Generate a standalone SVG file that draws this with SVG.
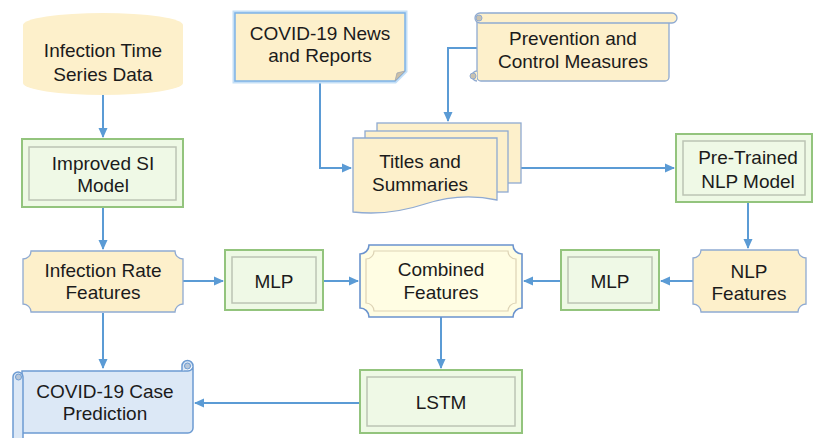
<svg xmlns="http://www.w3.org/2000/svg" width="813" height="438" viewBox="0 0 813 438">
<defs>
<marker id="ah" markerWidth="10" markerHeight="10" refX="9" refY="5" orient="auto" markerUnits="userSpaceOnUse">
<path d="M0,0.5 L10,5 L0,9.5 Z" fill="#5B9BD5"/>
</marker>
<style>
text{font-family:"Liberation Sans",Arial,sans-serif;font-size:19px;fill:#1b1b1b;text-anchor:middle}
.c{fill:none;stroke:#5B9BD5;stroke-width:2;marker-end:url(#ah)}
.gout{fill:#EEF9E5;stroke:#93C47D;stroke-width:2}
.gin{fill:#EFF9E6;stroke:#BCC4B4;stroke-width:1.5}
.yel{fill:#FDF0CB;stroke:#8FAAD2;stroke-width:1.3}
.blu{fill:#DCE8F6;stroke:#6C9BD2;stroke-width:1.5}
</style>
</defs>
<rect width="813" height="438" fill="#fff"/>

<g id="connectors">
<path class="c" d="M103,95 V137"/>
<path class="c" d="M103,207 V249"/>
<path class="c" d="M183,281 H223"/>
<path class="c" d="M323,281 H358"/>
<path class="c" d="M561,281 H524"/>
<path class="c" d="M693,281 H661"/>
<path class="c" d="M748,202 V248"/>
<path class="c" d="M441,317 V368"/>
<path class="c" d="M360,403 H195"/>
<path class="c" d="M103,313 V368"/>
<path class="c" d="M320,81 V168 H351"/>
<path class="c" d="M477,48 H448 V121"/>
<path class="c" d="M521,168 H674"/>
</g>

<g id="n-infection-time">
<path d="M23,25 A80,12 0 0 1 183,25 L183,83 A80,12 0 0 1 23,83 Z" fill="#FDF0CB"/>
<text x="103" y="57">Infection Time</text>
<text x="103" y="81">Series Data</text>
</g>

<g id="n-improved-si">
<rect class="gout" x="22" y="139" width="161" height="68"/>
<rect class="gin" x="29" y="147" width="147" height="53"/>
<text x="103" y="170">Improved SI</text>
<text x="103" y="192">Model</text>
</g>

<g id="n-infection-rate">
<path class="yel" d="M31,251 H175 A8,8 0 0 0 183,259 V304 A8,8 0 0 0 175,312 H31 A8,8 0 0 0 23,304 V259 A8,8 0 0 0 31,251 Z"/>
<text x="103" y="277">Infection Rate</text>
<text x="103" y="299">Features</text>
</g>

<g id="n-mlp1">
<rect class="gout" x="225" y="250" width="98" height="60"/>
<rect class="gin" x="232" y="257" width="84" height="46"/>
<text x="274" y="288">MLP</text>
</g>

<g id="n-combined">
<path d="M369,245 H513 A9,9 0 0 0 522,254 V308 A9,9 0 0 0 513,317 H369 A9,9 0 0 0 360,308 V254 A9,9 0 0 0 369,245 Z" fill="#FFFDE3" stroke="#6A93CE" stroke-width="1.6"/>
<path d="M374,251 H508 A8,8 0 0 0 516,259 V303 A8,8 0 0 0 508,311 H374 A8,8 0 0 0 366,303 V259 A8,8 0 0 0 374,251 Z" fill="none" stroke="#DDD3B5" stroke-width="1.2"/>
<text x="441" y="276">Combined</text>
<text x="441" y="299">Features</text>
</g>

<g id="n-mlp2">
<rect class="gout" x="561" y="250" width="98" height="60"/>
<rect class="gin" x="568" y="257" width="84" height="46"/>
<text x="610" y="288">MLP</text>
</g>

<g id="n-nlp-features">
<path class="yel" d="M701,250 H798 A8,8 0 0 0 806,258 V304 A8,8 0 0 0 798,312 H701 A8,8 0 0 0 693,304 V258 A8,8 0 0 0 701,250 Z"/>
<text x="749" y="278">NLP</text>
<text x="749" y="300">Features</text>
</g>

<g id="n-pretrained">
<rect class="gout" x="676" y="134" width="136" height="68"/>
<rect class="gin" x="683" y="141" width="122" height="54"/>
<text x="748" y="164">Pre-Trained</text>
<text x="748" y="188">NLP Model</text>
</g>

<g id="n-lstm">
<rect class="gout" x="360" y="370" width="162" height="63"/>
<rect class="gin" x="367" y="377" width="148" height="49"/>
<text x="441" y="409">LSTM</text>
</g>

<g id="n-prediction">
<path class="blu" d="M22,371 H188 A5,5 0 0 0 193,366 V428 A5,5 0 0 1 188,433 H22 Z"/>
<path class="blu" d="M182,371 V366 A5.5,5.5 0 0 1 193,366"/>
<circle cx="187.5" cy="366" r="3" fill="#B7C7DA" stroke="#6C9BD2" stroke-width="1"/>
<path class="blu" d="M13,440 V377 A5,5 0 0 1 23,377 V440 Z"/>
<circle cx="18.5" cy="377" r="3" fill="#B7C7DA" stroke="#6C9BD2" stroke-width="1"/>
<text x="105" y="398">COVID-19 Case</text>
<text x="105" y="420">Prediction</text>
</g>

<g id="n-news">
<path d="M235,13 H405 V71 L395,81 H235 Z" fill="none" stroke="#C4DFF6" stroke-width="5"/>
<path d="M235,13 H405 V71 L395,81 H235 Z" fill="#FDF0CB" stroke="#7EB3E6" stroke-width="1.5"/>
<path d="M395,81 L397,73 L405,71 Z" fill="#C9BFA8" stroke="#9FA6B3" stroke-width="0.8"/>
<text x="320" y="40">COVID-19 News</text>
<text x="320" y="62">and Reports</text>
</g>

<g id="n-prevention">
<rect x="477" y="18" width="192" height="63" rx="4" fill="#FDF0CB" stroke="#8FAAD2" stroke-width="1.3"/>
<rect x="475" y="13" width="202" height="10" rx="5" fill="#FDF0CB" stroke="#8FAAD2" stroke-width="1.3"/>
<circle cx="479" cy="18" r="3" fill="#C9C2B0" stroke="#8FAAD2" stroke-width="1"/>
<path d="M477,71 A5,5 0 0 0 477,81" fill="#FDF0CB" stroke="#8FAAD2" stroke-width="1.3"/>
<circle cx="473" cy="76" r="3" fill="#C9C2B0" stroke="#8FAAD2" stroke-width="1"/>
<text x="573" y="45">Prevention and</text>
<text x="573" y="68">Control Measures</text>
</g>

<g id="n-titles">
<rect x="377" y="123" width="144" height="60" fill="#FDF0CB" stroke="#8FAAD2" stroke-width="1.3"/>
<rect x="365" y="131" width="143" height="61" fill="#FDF0CB" stroke="#8FAAD2" stroke-width="1.3"/>
<path d="M353,138 H497 V200 Q461,192 425,204 Q389,216 353,212 Z" fill="#FDF0CB" stroke="#8FAAD2" stroke-width="1.3"/>
<text x="420" y="168">Titles and</text>
<text x="420" y="191">Summaries</text>
</g>
</svg>
